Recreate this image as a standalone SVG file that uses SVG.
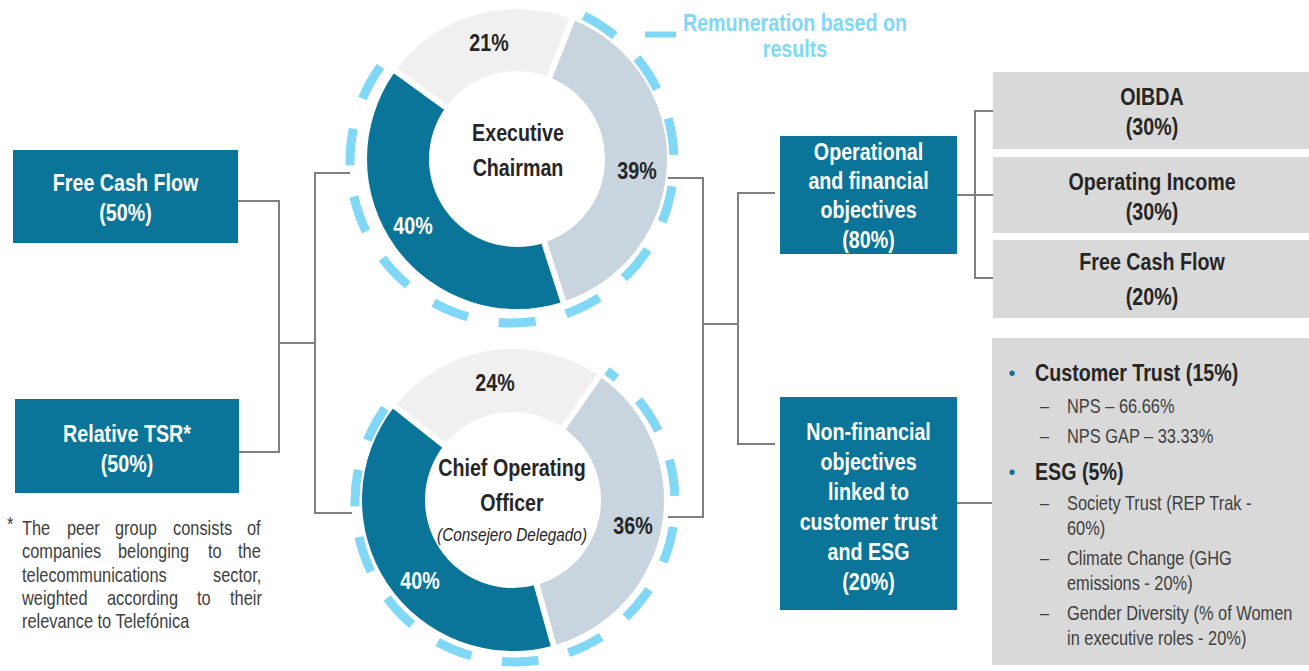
<svg xmlns="http://www.w3.org/2000/svg" width="1309" height="671" viewBox="0 0 1309 671">
<style>
text{font-family:'Liberation Sans',Arial,sans-serif}
.b{font-weight:bold;font-size:24px}
.w{fill:#fff}
.k{fill:#262626}
.r{font-size:20px;fill:#404040}
.c{text-anchor:middle}
.box{fill:#0a7598}
.gbox{fill:#d9d9d9}
.conn{fill:none;stroke:#7f7f7f;stroke-width:2}
.ring{fill:none;stroke:#80d8f6;stroke-width:9}
.gap{stroke:#fff;stroke-width:6}
.s1{fill:#f0f0f0}
.s2{fill:#c8d4de}
.s3{fill:#0a7598}
</style>
<rect width="1309" height="671" fill="#fff"/>
<g id="connectors" class="conn">
<path d="M238 201H279V452H239"/>
<path d="M279 343H315"/>
<path d="M350 173H315V513H352"/>
<path d="M668 178H703V517H668"/>
<path d="M703 324H738"/>
<path d="M775 193H738V444H775"/>
<path d="M957 195H975"/>
<path d="M993 111H975V278H993"/>
<path d="M975 195H993"/>
<path d="M957 503H993"/>
</g>
<g id="legend">
<line x1="645" y1="34.5" x2="676" y2="34.5" stroke="#80d8f6" stroke-width="6"/>
<text class="b c" transform="translate(795 31) scale(.82 1)" fill="#80d8f6">Remuneration based on</text>
<text class="b c" transform="translate(795 57) scale(.82 1)" fill="#80d8f6">results</text>
</g>
<g id="free-cash-flow-50">
<rect class="box" x="13" y="150" width="225" height="93"/>
<text class="b c w" transform="translate(125.5 191) scale(.82 1)">Free Cash Flow</text>
<text class="b c w" transform="translate(125.5 221) scale(.82 1)">(50%)</text>
</g>
<g id="relative-tsr-50">
<rect class="box" x="15" y="399" width="224" height="94"/>
<text class="b c w" transform="translate(127 442) scale(.82 1)">Relative TSR*</text>
<text class="b c w" transform="translate(127 472) scale(.82 1)">(50%)</text>
</g>
<g id="footnote">
<text class="r" transform="translate(7 531) scale(.82 1)" font-size="14">*</text>
<text class="r" transform="translate(0 535) scale(.82 1)"><tspan x="26.83">The</tspan> <tspan x="81.71">peer</tspan> <tspan x="140.24">group</tspan> <tspan x="210.98">consists</tspan> <tspan x="301.22">of</tspan></text>
<text class="r" transform="translate(0 558) scale(.82 1)"><tspan x="26.83">companies</tspan> <tspan x="143.9">belonging</tspan> <tspan x="253.66">to</tspan> <tspan x="290.24">the</tspan></text>
<text class="r" transform="translate(0 582) scale(.82 1)"><tspan x="26.83">telecommunications</tspan> <tspan x="259.76">sector,</tspan></text>
<text class="r" transform="translate(0 605) scale(.82 1)"><tspan x="26.83">weighted</tspan> <tspan x="130.49">according</tspan> <tspan x="240.24">to</tspan> <tspan x="280.49">their</tspan></text>
<text class="r" transform="translate(22 628) scale(.82 1)">relevance to Telefónica</text>
</g>
<g id="executive-chairman">
<path class="s1" d="M395.65 70.83A150 150 0 0 1 572.22 19.53L549.39 77.18A88 88 0 0 0 445.81 107.27Z"/>
<path class="s2" d="M572.22 19.53A150 150 0 0 1 563.35 301.66L544.19 242.7A88 88 0 0 0 549.39 77.18Z"/>
<path class="s3" d="M563.35 301.66A150 150 0 0 1 395.65 70.83L445.81 107.27A88 88 0 0 0 544.19 242.7Z"/>
<line class="gap" x1="448.2" y1="109" x2="392.4" y2="68.5"/>
<line class="gap" x1="548.3" y1="80" x2="573.7" y2="15.8"/>
<line class="gap" x1="543.3" y1="239.8" x2="564.6" y2="305.5"/>
<path class="ring" d="M583.8 15.8A162 162 0 1 1 381.9 64.4" stroke-dasharray="37.04 31.38"/>
<text class="b c k" transform="translate(489 51) scale(.82 1)" font-size="25">21%</text>
<text class="b c k" transform="translate(518 141) scale(.82 1)">Executive</text>
<text class="b c k" transform="translate(518 176) scale(.82 1)">Chairman</text>
<text class="b c k" transform="translate(637 179) scale(.82 1)" font-size="25">39%</text>
<text class="b c w" transform="translate(413 234) scale(.82 1)" font-size="25">40%</text>
</g>
<g id="chief-operating-officer">
<path class="s1" d="M394.66 406.21A151 151 0 0 1 599.18 376.01L563.22 427.74A88 88 0 0 0 444.03 445.34Z"/>
<path class="s2" d="M599.18 376.01A151 151 0 0 1 553.6 645.44L536.66 584.76A88 88 0 0 0 563.22 427.74Z"/>
<path class="s3" d="M553.6 645.44A151 151 0 0 1 394.66 406.21L444.03 445.34A88 88 0 0 0 536.66 584.76Z"/>
<line class="gap" x1="446.4" y1="447.2" x2="391.5" y2="403.7"/>
<line class="gap" x1="561.5" y1="430.2" x2="601.5" y2="372.7"/>
<line class="gap" x1="535.9" y1="581.9" x2="554.7" y2="649.3"/>
<path class="ring" d="M606.8 370.9A160 160 0 1 1 386.5 406.6" stroke-dasharray="36.58 31" stroke-dashoffset="24.3"/>
<text class="b c k" transform="translate(495 391) scale(.82 1)" font-size="25">24%</text>
<text class="b c k" transform="translate(512 476) scale(.82 1)">Chief Operating</text>
<text class="b c k" transform="translate(512 511) scale(.82 1)">Officer</text>
<text class="c k" transform="translate(512 541) scale(.82 1)" font-size="18.7" font-style="italic">(Consejero Delegado)</text>
<text class="b c k" transform="translate(633 534) scale(.82 1)" font-size="25">36%</text>
<text class="b c w" transform="translate(420 589) scale(.82 1)" font-size="25">40%</text>
</g>
<g id="operational-financial-80">
<rect class="box" x="780" y="136" width="177" height="118"/>
<text class="b c w" transform="translate(868.5 160) scale(.82 1)">Operational</text>
<text class="b c w" transform="translate(868.5 189) scale(.82 1)">and financial</text>
<text class="b c w" transform="translate(868.5 218) scale(.82 1)">objectives</text>
<text class="b c w" transform="translate(868.5 248) scale(.82 1)">(80%)</text>
</g>
<g id="non-financial-20">
<rect class="box" x="780" y="397" width="177" height="213"/>
<text class="b c w" transform="translate(868.5 440) scale(.82 1)">Non-financial</text>
<text class="b c w" transform="translate(868.5 470) scale(.82 1)">objectives</text>
<text class="b c w" transform="translate(868.5 500) scale(.82 1)">linked to</text>
<text class="b c w" transform="translate(868.5 530) scale(.82 1)">customer trust</text>
<text class="b c w" transform="translate(868.5 560) scale(.82 1)">and ESG</text>
<text class="b c w" transform="translate(868.5 590) scale(.82 1)">(20%)</text>
</g>
<g id="oibda-30">
<rect class="gbox" x="993" y="72" width="320" height="77"/>
<text class="b c k" transform="translate(1152 105) scale(.82 1)">OIBDA</text>
<text class="b c k" transform="translate(1152 135) scale(.82 1)">(30%)</text>
</g>
<g id="operating-income-30">
<rect class="gbox" x="993" y="157" width="320" height="76"/>
<text class="b c k" transform="translate(1152 190) scale(.82 1)">Operating Income</text>
<text class="b c k" transform="translate(1152 220) scale(.82 1)">(30%)</text>
</g>
<g id="free-cash-flow-20">
<rect class="gbox" x="993" y="240" width="320" height="78"/>
<text class="b c k" transform="translate(1152 270) scale(.82 1)">Free Cash Flow</text>
<text class="b c k" transform="translate(1152 305) scale(.82 1)">(20%)</text>
</g>
<g id="customer-trust-esg">
<rect class="gbox" x="992" y="338" width="320" height="327"/>
<text class="c" x="1012" y="380" font-size="20" fill="#1b6e8c">•</text>
<text class="b k" transform="translate(1035 381) scale(.82 1)">Customer Trust (15%)</text>
<text class="r" transform="translate(1040 413) scale(.82 1)">–</text>
<text class="r" transform="translate(1067 413) scale(.82 1)">NPS – 66.66%</text>
<text class="r" transform="translate(1040 443) scale(.82 1)">–</text>
<text class="r" transform="translate(1067 443) scale(.82 1)">NPS GAP – 33.33%</text>
<text class="c" x="1012" y="479" font-size="20" fill="#1b6e8c">•</text>
<text class="b k" transform="translate(1035 480) scale(.82 1)">ESG (5%)</text>
<text class="r" transform="translate(1040 510) scale(.82 1)">–</text>
<text class="r" transform="translate(1067 510) scale(.82 1)">Society Trust (REP Trak -</text>
<text class="r" transform="translate(1067 535) scale(.82 1)">60%)</text>
<text class="r" transform="translate(1040 565) scale(.82 1)">–</text>
<text class="r" transform="translate(1067 565) scale(.82 1)">Climate Change (GHG</text>
<text class="r" transform="translate(1067 590) scale(.82 1)">emissions - 20%)</text>
<text class="r" transform="translate(1040 620) scale(.82 1)">–</text>
<text class="r" transform="translate(1067 620) scale(.82 1)">Gender Diversity (% of Women</text>
<text class="r" transform="translate(1067 645) scale(.82 1)">in executive roles - 20%)</text>
</g>
</svg>
